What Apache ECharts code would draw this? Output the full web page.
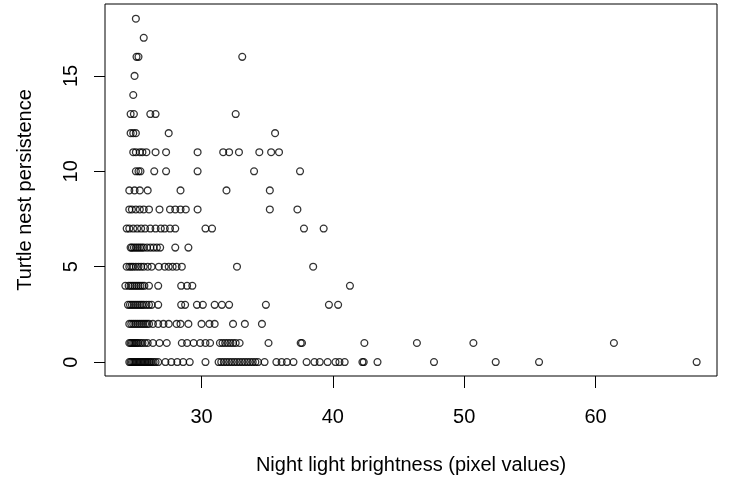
<!DOCTYPE html>
<html>
<head>
<meta charset="utf-8">
<script src="https://cdn.jsdelivr.net/npm/echarts@6/dist/echarts.min.js"></script>
<style>
  html, body { margin: 0; padding: 0; background: #fff; }
  #chart { width: 729px; height: 484px; }
</style>
</head>
<body>
<div id="chart"></div>
<script>
// Night light brightness values, grouped by turtle nest persistence
const persistenceLevels = [0, 1, 2, 3, 4, 5, 6, 7, 8, 9, 10, 11, 12, 13, 14, 15, 16, 17, 18];
const brightnessAt0 = [24.5, 24.6, 24.7, 24.8, 24.9, 25.0, 25.1, 25.2, 25.3, 25.4, 25.5, 25.6, 25.7, 25.8, 25.9, 26.0, 26.1, 26.2, 26.35, 26.5, 26.7,
  27.25, 27.7, 28.15, 28.6, 29.1, 30.3,
  31.3, 31.5, 31.7, 31.9, 32.1, 32.3, 32.5, 32.7, 32.9, 33.1, 33.3, 33.5, 33.7, 33.9, 34.1, 34.3,
  34.8, 35.7, 36.1, 36.5, 37.0, 38.0, 38.6, 39.0, 39.6, 40.2, 40.5, 40.9, 42.25, 42.35, 43.4, 47.7, 52.4, 55.7, 67.7];
const brightnessAt1 = [24.5, 24.6, 24.7, 24.8, 24.9, 25.0, 25.1, 25.2, 25.35, 25.5, 25.7, 25.9, 26.3, 26.8, 27.35,
  28.5, 28.9, 29.4, 29.9, 30.3, 30.65, 31.4, 31.6, 31.8, 32.0, 32.2, 32.4, 32.6, 32.9,
  35.1, 37.55, 37.65, 42.4, 46.4, 50.7, 61.4];
const brightnessAt2 = [24.5, 24.65, 24.8, 24.95, 25.1, 25.25, 25.4, 25.55, 25.7, 25.85, 26.0, 26.3, 26.7, 27.1, 27.5,
  28.1, 28.4, 29.0, 30.0, 30.6, 31.0, 32.4, 33.3, 34.6];
const brightnessAt3 = [24.4, 24.55, 24.7, 24.85, 25.0, 25.15, 25.3, 25.45, 25.6, 25.8, 26.0, 26.2, 26.7,
  28.45, 28.75, 29.65, 30.1, 31.0, 31.55, 32.1, 34.9, 39.7, 40.4];
const brightnessAt4 = [24.2, 24.45, 24.6, 24.75, 24.9, 25.05, 25.2, 25.35, 25.5, 25.65, 26.0, 26.7, 28.45, 28.9, 29.3, 41.3];
const brightnessAt5 = [24.3, 24.5, 24.65, 24.8, 25.0, 25.2, 25.4, 25.6, 25.9, 26.2, 26.75, 27.2, 27.5, 27.8, 28.1, 28.5, 32.7, 38.5];
const brightnessAt6 = [24.6, 24.7, 24.85, 25.0, 25.15, 25.3, 25.45, 25.6, 25.85, 26.1, 26.35, 26.6, 26.85, 28.0, 29.0];
const brightnessAt7 = [24.3, 24.5, 24.8, 25.1, 25.4, 25.7, 26.1, 26.5, 26.9, 27.2, 27.6, 28.0, 30.3, 30.8, 37.8, 39.3];
const brightnessAt8 = [24.5, 24.7, 25.0, 25.3, 25.6, 26.0, 26.8, 27.6, 28.0, 28.4, 28.8, 29.7, 35.2, 37.3];
const brightnessAt9 = [24.5, 24.9, 25.3, 25.9, 28.4, 31.9, 35.2];
const brightnessAt10 = [25.0, 25.2, 25.35, 26.4, 27.3, 29.7, 34.0, 37.5];
const brightnessAt11 = [24.8, 25.0, 25.3, 25.5, 25.8, 26.5, 27.3, 29.7, 31.65, 32.1, 32.85, 34.4, 35.3, 35.9];
const brightnessAt12 = [24.6, 24.8, 25.0, 27.5, 35.6];
const brightnessAt13 = [24.6, 24.85, 26.1, 26.5, 32.6];
const brightnessAt14 = [24.8];
const brightnessAt15 = [24.9];
const brightnessAt16 = [25.05, 25.2, 33.1];
const brightnessAt17 = [25.6];
const brightnessAt18 = [25.0];

const xTicks = [30, 40, 50, 60];
const yTicks = [0, 5, 10, 15];

const brightnessByLevel = [brightnessAt0, brightnessAt1, brightnessAt2, brightnessAt3, brightnessAt4, brightnessAt5,
  brightnessAt6, brightnessAt7, brightnessAt8, brightnessAt9, brightnessAt10, brightnessAt11, brightnessAt12,
  brightnessAt13, brightnessAt14, brightnessAt15, brightnessAt16, brightnessAt17, brightnessAt18];

const points = [];
persistenceLevels.forEach(function (lvl, i) {
  brightnessByLevel[i].forEach(function (b) { points.push([b, lvl]); });
});

const FONT = '"Liberation Sans", Arial, sans-serif';
const chart = echarts.init(document.getElementById('chart'), null, { renderer: 'canvas' });
chart.setOption({
  animation: false,
  backgroundColor: '#ffffff',
  grid: {
    left: 105, right: 12, top: 4, bottom: 108,
    show: true, borderColor: '#000', borderWidth: 1, backgroundColor: 'transparent'
  },
  xAxis: {
    type: 'value',
    min: 22.65, max: 69.25,
    name: 'Night light brightness (pixel values)',
    nameLocation: 'middle',
    nameGap: 79,
    nameTextStyle: { fontFamily: FONT, fontSize: 20, color: '#000' },
    axisLine: { show: false, onZero: false },
    splitLine: { show: false },
    axisTick: { show: true, customValues: xTicks, length: 12, inside: false, lineStyle: { color: '#000', width: 1 } },
    axisLabel: { customValues: xTicks, fontFamily: FONT, fontSize: 20, color: '#000', margin: 31 }
  },
  yAxis: {
    type: 'value',
    min: -0.73, max: 18.77,
    name: 'Turtle nest persistence',
    nameLocation: 'middle',
    nameGap: 70,
    nameRotate: 90,
    nameTextStyle: { fontFamily: FONT, fontSize: 20, color: '#000' },
    axisLine: { show: false, onZero: false },
    splitLine: { show: false },
    axisTick: { show: true, customValues: yTicks, length: 11, inside: false, lineStyle: { color: '#000', width: 1 } },
    axisLabel: { customValues: yTicks, rotate: 90, fontFamily: FONT, fontSize: 20, color: '#000', margin: 24 }
  },
  series: [{
    type: 'scatter',
    data: points,
    symbol: 'circle',
    symbolSize: 6.8,
    itemStyle: { color: 'transparent', borderColor: '#000', borderWidth: 1.3 },
    emphasis: { disabled: true },
    silent: true
  }]
});
</script>
</body>
</html>
